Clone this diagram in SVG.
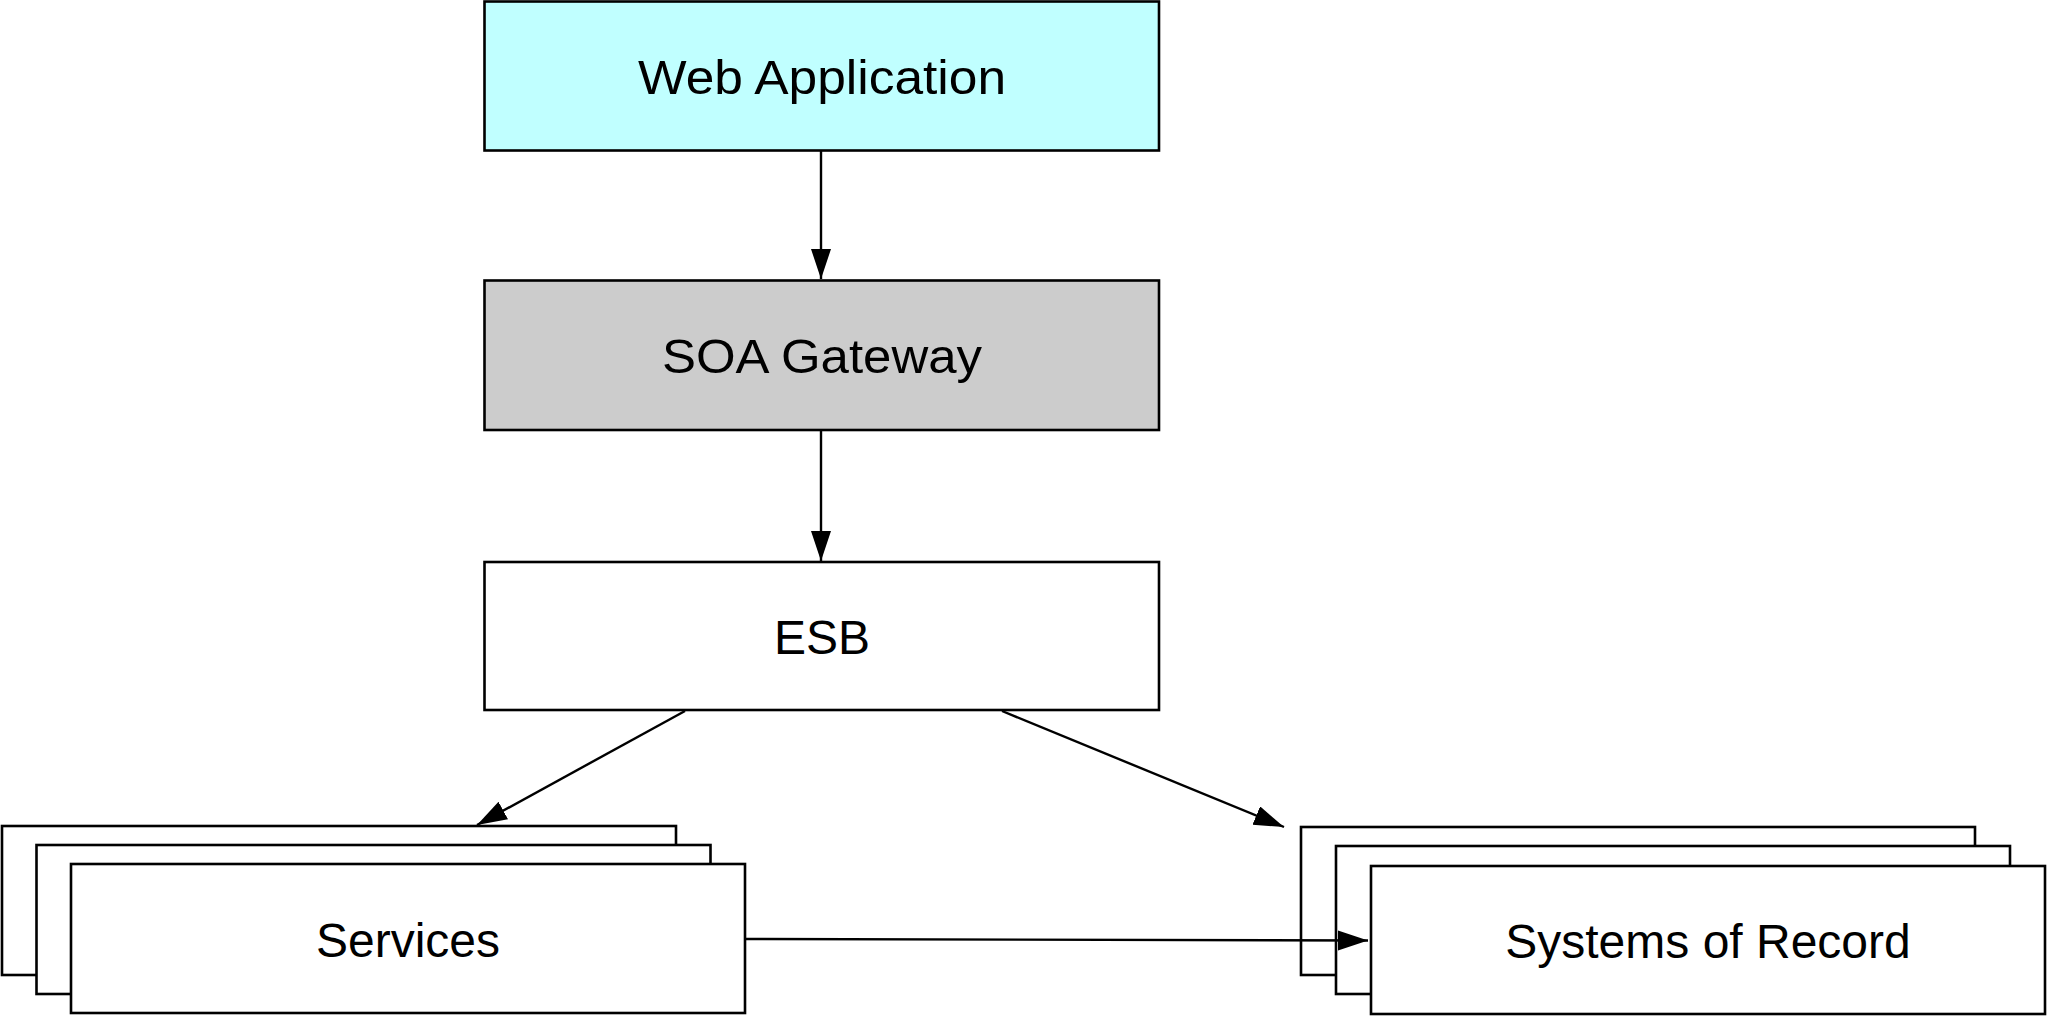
<svg xmlns="http://www.w3.org/2000/svg" width="2049" height="1017" viewBox="0 0 2049 1017">
<style>
rect{stroke:#000;stroke-width:2.6;fill:#fff}
text{font-family:"Liberation Sans",Arial,sans-serif;font-size:48px;fill:#000;text-anchor:middle}
.conn line{stroke:#000;stroke-width:2.4;fill:none}
</style>
<defs>
<marker id="ah" markerUnits="userSpaceOnUse" markerWidth="32" markerHeight="22" refX="30" refY="10" orient="auto">
<path d="M0,0 L30,10 L0,20 Z" fill="#000"/>
</marker>
</defs>
<rect width="2049" height="1017" style="fill:#fff;stroke:none"/>
<g id="web-application">
<rect x="484.5" y="1.5" width="674.5" height="149" style="fill:#c0ffff"/>
<text x="822" y="94" textLength="368" lengthAdjust="spacingAndGlyphs">Web Application</text>
</g>
<g id="soa-gateway">
<rect x="484.5" y="280.5" width="674.5" height="149.5" style="fill:#cccccc"/>
<text x="822" y="373" textLength="320" lengthAdjust="spacingAndGlyphs">SOA Gateway</text>
</g>
<g id="esb">
<rect x="484.5" y="562" width="674.5" height="148"/>
<text x="822" y="654">ESB</text>
</g>
<g id="services">
<rect x="2" y="826" width="674" height="149"/>
<rect x="36.5" y="845" width="674" height="149"/>
<rect x="71" y="864" width="674" height="149"/>
<text x="408" y="957">Services</text>
</g>
<g id="systems-of-record">
<rect x="1301" y="827" width="674" height="148"/>
<rect x="1336" y="846" width="674" height="148"/>
<rect x="1371" y="866" width="674" height="148"/>
<text x="1708" y="958">Systems of Record</text>
</g>
<g id="connectors" class="conn">
<line x1="821" y1="151" x2="821" y2="279" marker-end="url(#ah)"/>
<line x1="821" y1="430" x2="821" y2="561" marker-end="url(#ah)"/>
<line x1="685" y1="711" x2="477" y2="825" marker-end="url(#ah)"/>
<line x1="1002" y1="711" x2="1284" y2="827" marker-end="url(#ah)"/>
<line x1="746" y1="939" x2="1368" y2="940.5" marker-end="url(#ah)"/>
</g>
</svg>
